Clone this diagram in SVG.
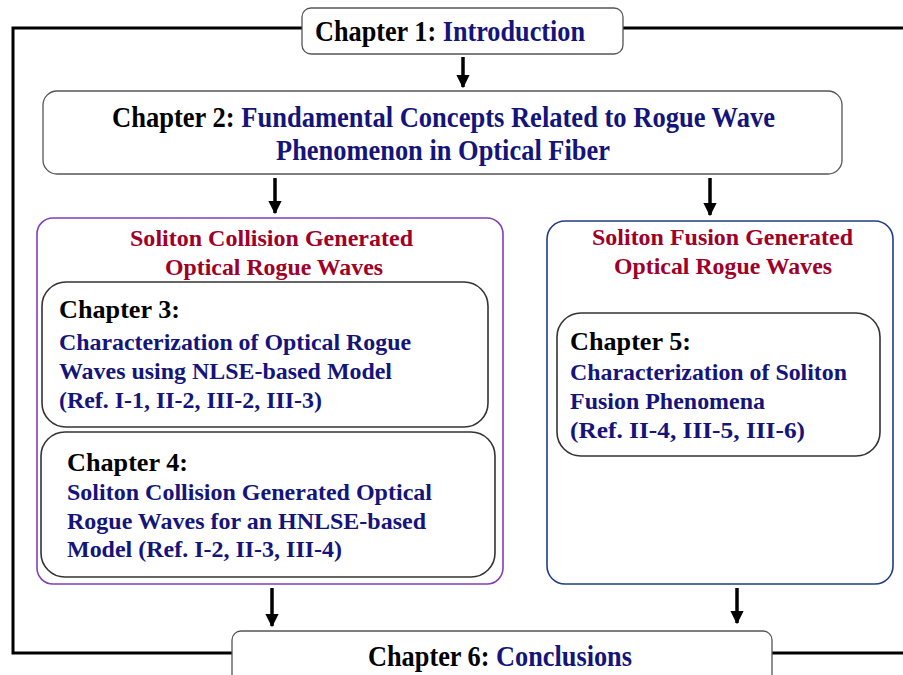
<svg xmlns="http://www.w3.org/2000/svg" width="903" height="675" viewBox="0 0 903 675">
<style>
  text { font-family: "Liberation Serif", "Times New Roman", serif; font-weight: bold; }
  .blk { fill: #000; }
  .blu { fill: #14147a; }
  .red { fill: #a00028; }
  .big { font-size: 29px; }
  .h { font-size: 26px; }
  .b { font-size: 23px; }
  .t { font-size: 23px; }
  .frame { fill: #fff; stroke: #555; stroke-width: 1.3; }
  .inner { fill: #fff; stroke: #333; stroke-width: 1.6; }
  .line { fill: none; stroke: #000; stroke-width: 3; }
  .arr { stroke: #000; stroke-width: 3.5; fill: none; }
</style>
<defs>
  <marker id="ah" viewBox="0 0 10 10" refX="9" refY="5" markerWidth="4" markerHeight="3.8" orient="auto" markerUnits="strokeWidth">
    <path d="M0,0 L10,5 L0,10 Z" fill="#000"/>
  </marker>
</defs>
<rect width="903" height="675" fill="#fff"/>

<g id="connectors">
  <polyline class="line" points="302,28 13,28 13,653 232,653"/>
  <line class="line" x1="623" y1="28" x2="903" y2="28"/>
  <line class="line" x1="772" y1="653" x2="903" y2="653"/>
  <line class="arr" x1="463" y1="57" x2="463" y2="87" marker-end="url(#ah)"/>
  <line class="arr" x1="275" y1="178" x2="275" y2="213" marker-end="url(#ah)"/>
  <line class="arr" x1="710" y1="178" x2="710" y2="215" marker-end="url(#ah)"/>
  <line class="arr" x1="272" y1="588" x2="272" y2="626" marker-end="url(#ah)"/>
  <line class="arr" x1="737" y1="588" x2="737" y2="623" marker-end="url(#ah)"/>
</g>

<g id="ch1">
  <rect class="frame" x="302" y="8" width="321" height="46" rx="9"/>
  <text class="big" x="315" y="41" textLength="270" lengthAdjust="spacingAndGlyphs"><tspan class="blk">Chapter 1: </tspan><tspan class="blu">Introduction</tspan></text>
</g>

<g id="ch2">
  <rect class="frame" x="43" y="91" width="799" height="83" rx="14"/>
  <text class="big" x="112" y="127" textLength="663" lengthAdjust="spacingAndGlyphs"><tspan class="blk">Chapter 2: </tspan><tspan class="blu">Fundamental Concepts Related to Rogue Wave</tspan></text>
  <text class="big blu" x="276" y="160" textLength="334" lengthAdjust="spacingAndGlyphs">Phenomenon in Optical Fiber</text>
</g>

<g id="collision">
  <rect x="37" y="218" width="466" height="366" rx="16" fill="#fff" stroke="#7f3fbf" stroke-width="1.6"/>
  <text class="t red" x="130" y="246" textLength="283" lengthAdjust="spacingAndGlyphs">Soliton Collision Generated</text>
  <text class="t red" x="165" y="275" textLength="218" lengthAdjust="spacingAndGlyphs">Optical Rogue Waves</text>
</g>

<g id="ch3">
  <rect class="inner" x="42" y="282" width="446" height="145" rx="24"/>
  <text class="h blk" x="59" y="318" textLength="121" lengthAdjust="spacingAndGlyphs">Chapter 3:</text>
  <text class="b blu" x="59" y="350" textLength="352" lengthAdjust="spacingAndGlyphs">Characterization of Optical Rogue</text>
  <text class="b blu" x="59" y="379" textLength="333" lengthAdjust="spacingAndGlyphs">Waves using NLSE-based Model</text>
  <text class="b blu" x="59" y="408" textLength="263" lengthAdjust="spacingAndGlyphs">(Ref. I-1, II-2, III-2, III-3)</text>
</g>

<g id="ch4">
  <rect class="inner" x="41" y="432" width="454" height="145" rx="24"/>
  <text class="h blk" x="67" y="471" textLength="121" lengthAdjust="spacingAndGlyphs">Chapter 4:</text>
  <text class="b blu" x="67" y="500" textLength="365" lengthAdjust="spacingAndGlyphs">Soliton Collision Generated Optical</text>
  <text class="b blu" x="67" y="529" textLength="359" lengthAdjust="spacingAndGlyphs">Rogue Waves for an HNLSE-based</text>
  <text class="b blu" x="67" y="557" textLength="275" lengthAdjust="spacingAndGlyphs">Model (Ref. I-2, II-3, III-4)</text>
</g>

<g id="fusion">
  <rect x="547" y="221" width="346" height="363" rx="18" fill="#fff" stroke="#1f3c88" stroke-width="1.6"/>
  <text class="t red" x="592" y="245" textLength="261" lengthAdjust="spacingAndGlyphs">Soliton Fusion Generated</text>
  <text class="t red" x="614" y="274" textLength="218" lengthAdjust="spacingAndGlyphs">Optical Rogue Waves</text>
</g>

<g id="ch5">
  <rect class="inner" x="557" y="313" width="323" height="143" rx="24"/>
  <text class="h blk" x="570" y="350" textLength="121" lengthAdjust="spacingAndGlyphs">Chapter 5:</text>
  <text class="b blu" x="570" y="380" textLength="277" lengthAdjust="spacingAndGlyphs">Characterization of Soliton</text>
  <text class="b blu" x="570" y="409" textLength="195" lengthAdjust="spacingAndGlyphs">Fusion Phenomena</text>
  <text class="b blu" x="570" y="438" textLength="235" lengthAdjust="spacingAndGlyphs">(Ref. II-4, III-5, III-6)</text>
</g>

<g id="ch6">
  <rect class="frame" x="232" y="631" width="540" height="60" rx="9"/>
  <text class="big" x="368" y="666" textLength="264" lengthAdjust="spacingAndGlyphs"><tspan class="blk">Chapter 6: </tspan><tspan class="blu">Conclusions</tspan></text>
</g>
</svg>
